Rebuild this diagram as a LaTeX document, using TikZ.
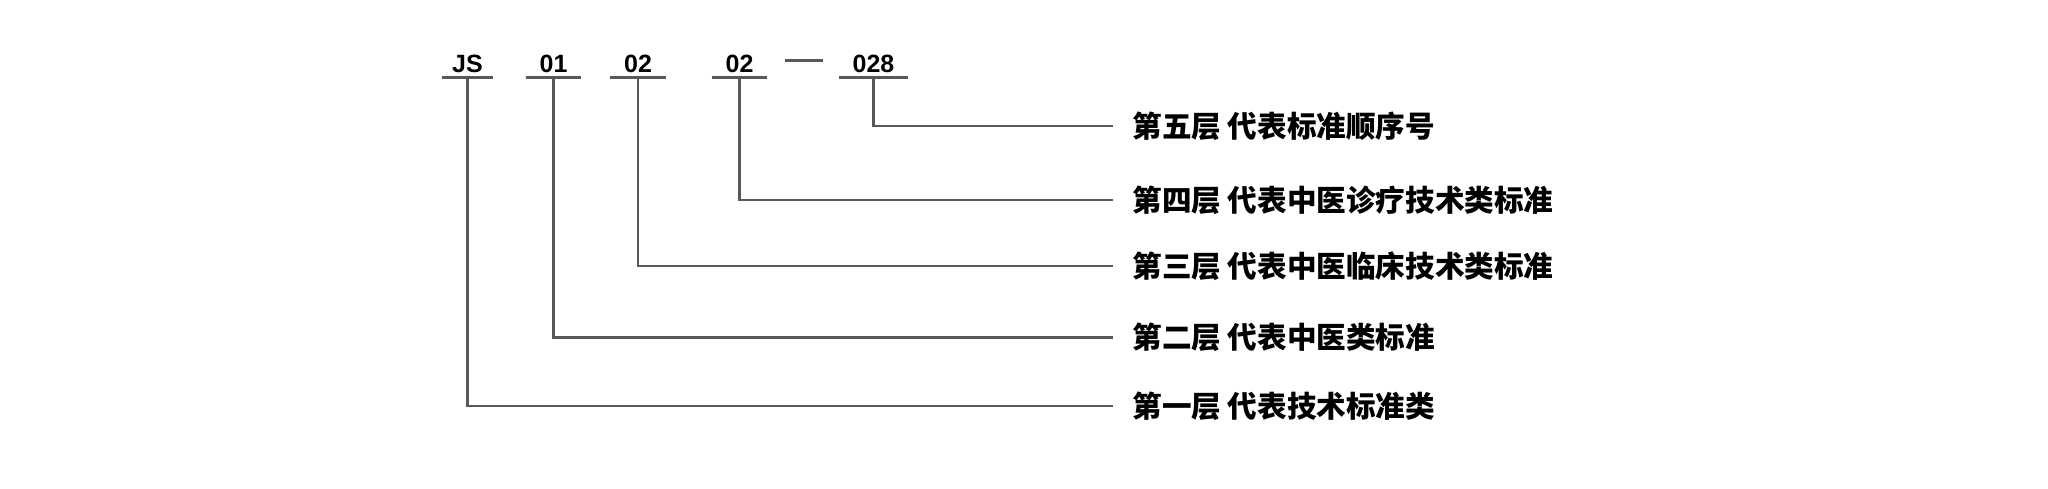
\documentclass[tikz,border=0pt]{standalone}
\usepackage{fontspec}
\setmainfont{Liberation Sans}
\newfontfamily\cjk{Noto Sans CJK SC}

\begin{document}
\begin{tikzpicture}[x=0.5pt,y=-0.5pt,
  code/.style={font=\bfseries\fontsize{12.5}{14}\selectfont,inner xsep=0pt,inner ysep=2.5pt,
    text depth=0pt,minimum width=27.5pt,anchor=south},
  layer/.style={font=\cjk\bfseries\fontsize{14.8}{18}\selectfont,inner xsep=9.5pt,inner ysep=0pt,anchor=west},
  rule/.style={black!65,line width=1.3pt}]
\useasboundingbox (0,0) rectangle (2048,488);
\node[code,minimum width=25.5pt] (js) at (467.5,77.5) {JS};
\node[code] (c1) at (553.5,77.5) {01};
\node[code] (c2) at (638,77.5) {02};
\node[code] (c3) at (739.5,77.5) {02};
\node[code,minimum width=34.5pt] (c4) at (873.5,77.5) {028};
\coordinate (d1) at (785,60.7);
\coordinate (d2) at (823,60.7);
\draw[rule] (d1) -- (d2);
\foreach \c in {js,c1,c2,c3,c4}
  \draw[rule] (\c.south west) -- (\c.south east);
% layers
\node[layer] (l5) at (1113,126) {第五层 代表标准顺序号};
\node[layer] (l4) at (1113,200) {第四层 代表中医诊疗技术类标准};
\node[layer] (l3) at (1113,266) {第三层 代表中医临床技术类标准};
\node[layer] (l2) at (1113,337.5) {第二层 代表中医类标准};
\node[layer] (l1) at (1113,406) {第一层 代表技术标准类};
\draw[rule] (c4.south) |- (l5.west);
\draw[rule] (c3.south) |- (l4.west);
\draw[rule] (c2.south) |- (l3.west);
\draw[rule] (c1.south) |- (l2.west);
\draw[rule] (js.south) |- (l1.west);
\end{tikzpicture}
\end{document}
